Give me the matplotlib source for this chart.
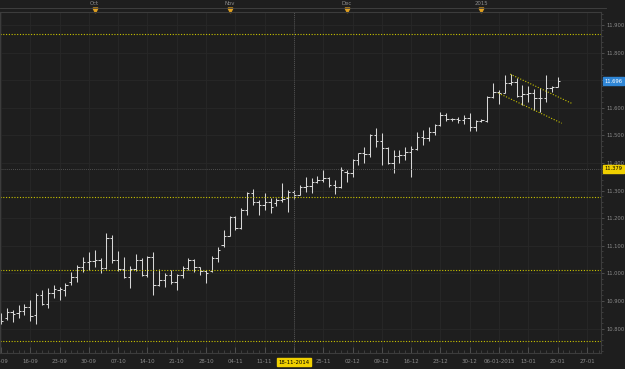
#!/usr/bin/env python
"""
Daily OHLC bar chart, dark terminal style, with support lines and a channel.
"""
import pandas as pd
import matplotlib
matplotlib.use("Agg")
import matplotlib.pyplot as plt
from matplotlib.transforms import blended_transform_factory

# daily bars, first bar is 09-09-2014
opens = [10.837, 10.838, 10.860, 10.858, 10.864, 10.878, 10.849, 10.922, 10.888, 10.928,
         10.940, 10.940, 10.970, 10.988, 11.024, 11.040, 11.045, 11.049, 11.020, 11.128,
         11.049, 11.016, 10.987, 11.016, 11.049, 10.994, 11.059, 10.958, 10.976, 10.994,
         10.969, 10.994, 11.020, 11.049, 11.023, 11.009, 11.009, 11.056, 11.103, 11.136,
         11.204, 11.164, 11.230, 11.291, 11.259, 11.248, 11.259, 11.255, 11.266, 11.273,
         11.295, 11.284, 11.313, 11.317, 11.331, 11.338, 11.346, 11.320, 11.313, 11.367,
         11.364, 11.411, 11.435, 11.433, 11.501, 11.480, 11.454, 11.400, 11.425, 11.429,
         11.440, 11.452, 11.494, 11.491, 11.512, 11.538, 11.574, 11.559, 11.558, 11.556,
         11.563, 11.530, 11.552, 11.552, 11.639, 11.657, 11.654, 11.690, 11.693, 11.641,
         11.650, 11.654, 11.636, 11.634, 11.672, 11.674]
highs = [10.855, 10.874, 10.867, 10.886, 10.888, 10.904, 10.928, 10.940, 10.946, 10.958,
         10.952, 10.964, 11.006, 11.030, 11.061, 11.079, 11.085, 11.055, 11.146, 11.139,
         11.081, 11.059, 11.027, 11.070, 11.056, 11.063, 11.078, 11.016, 11.001, 11.012,
         10.998, 11.027, 11.056, 11.052, 11.023, 11.012, 11.063, 11.096, 11.157, 11.208,
         11.208, 11.237, 11.295, 11.306, 11.266, 11.291, 11.273, 11.273, 11.328, 11.302,
         11.302, 11.320, 11.349, 11.346, 11.353, 11.375, 11.349, 11.338, 11.386, 11.375,
         11.414, 11.436, 11.458, 11.505, 11.527, 11.509, 11.458, 11.447, 11.447, 11.458,
         11.462, 11.512, 11.520, 11.530, 11.541, 11.585, 11.581, 11.563, 11.567, 11.574,
         11.581, 11.556, 11.558, 11.641, 11.690, 11.665, 11.719, 11.722, 11.708, 11.683,
         11.679, 11.668, 11.672, 11.719, 11.679, 11.712]
lows = [10.816, 10.831, 10.825, 10.840, 10.849, 10.829, 10.817, 10.886, 10.876, 10.912,
        10.904, 10.919, 10.958, 10.970, 11.006, 11.012, 11.024, 11.000, 11.016, 11.038,
        11.009, 10.983, 10.947, 11.009, 10.991, 10.987, 10.922, 10.954, 10.951, 10.962,
        10.940, 10.983, 11.012, 11.005, 10.994, 10.965, 11.005, 11.041, 11.096, 11.136,
        11.157, 11.161, 11.212, 11.248, 11.212, 11.230, 11.219, 11.244, 11.259, 11.222,
        11.270, 11.284, 11.295, 11.291, 11.328, 11.331, 11.313, 11.288, 11.309, 11.331,
        11.349, 11.393, 11.400, 11.422, 11.458, 11.393, 11.398, 11.364, 11.400, 11.411,
        11.349, 11.447, 11.465, 11.480, 11.501, 11.534, 11.552, 11.552, 11.545, 11.541,
        11.516, 11.516, 11.550, 11.550, 11.637, 11.614, 11.652, 11.683, 11.639, 11.610,
        11.621, 11.592, 11.585, 11.621, 11.657, 11.674]
closes = [10.828, 10.860, 10.852, 10.864, 10.879, 10.847, 10.922, 10.888, 10.928, 10.942,
          10.943, 10.958, 10.988, 11.024, 11.040, 11.045, 11.049, 11.018, 11.128, 11.049,
          11.016, 10.987, 11.016, 11.049, 10.994, 11.059, 10.958, 10.976, 10.994, 10.969,
          10.994, 11.020, 11.049, 11.023, 11.009, 11.001, 11.056, 11.085, 11.136, 11.204,
          11.164, 11.230, 11.291, 11.259, 11.248, 11.259, 11.241, 11.266, 11.270, 11.295,
          11.284, 11.313, 11.317, 11.331, 11.338, 11.346, 11.320, 11.313, 11.375, 11.364,
          11.411, 11.435, 11.433, 11.501, 11.480, 11.454, 11.400, 11.425, 11.429, 11.440,
          11.452, 11.494, 11.491, 11.512, 11.538, 11.574, 11.559, 11.558, 11.556, 11.563,
          11.530, 11.552, 11.554, 11.639, 11.657, 11.654, 11.690, 11.693, 11.641, 11.650,
          11.654, 11.636, 11.634, 11.672, 11.674, 11.696]

# weekly labels (every 5th bar), last one falls past the data
week_labels = ["09-09", "16-09", "23-09", "30-09", "07-10", "14-10", "21-10", "28-10",
               "04-11", "11-11", "18-11-2014", "25-11", "02-12", "09-12", "16-12",
               "23-12", "30-12", "06-01-2015", "13-01", "20-01", "27-01"]
month_labels = ["Oct", "Nov", "Dec", "2015"]
month_bars = [16, 39, 59, 82]

# horizontal levels drawn by hand on the chart
levels = [11.867, 11.277, 11.012, 10.755]
# falling channel (bar index, price)
channel_upper_x = [86.9, 97.6]
channel_upper_y = [11.722, 11.614]
channel_lower_x = [84.9, 95.7]
channel_lower_y = [11.653, 11.544]

cross_bar = 50
cross_price = 11.379
last_price = 11.696

BG = "#1e1e1e"
GRID = "#282828"
BAR = "#d6d6d6"
TXT = "#8c8c8c"
YEL = "#c9c400"

W, H = 625, 369


def plot_bars(ax):
    """Draw OHLC bars: high-low stem, open tick left, close tick right."""
    for i in range(len(closes)):
        ax.vlines(i, lows[i], highs[i], color=BAR, lw=0.75)
        ax.hlines(opens[i], i - 0.4, i, color=BAR, lw=0.75)
        ax.hlines(closes[i], i, i + 0.4, color=BAR, lw=0.75)


fig = plt.figure(figsize=(W / 100, H / 100), dpi=100, facecolor=BG)
ax = fig.add_axes([0, 16 / H, 601 / W, 341 / H], facecolor=BG)

ax.set_xlim(-0.17, 102.4)
ax.set_ylim(10.7116, 11.947)

# grid
price_ticks = [10.8 + 0.1 * k for k in range(12)]
week_pos = [5 * k for k in range(len(week_labels))]
for p in price_ticks:
    ax.axhline(p, color=GRID, lw=0.6, zorder=0)
for x in week_pos:
    ax.axvline(x, color=GRID, lw=0.6, zorder=0)

plot_bars(ax)

for lv in levels:
    ax.axhline(lv, color=YEL, lw=0.8, ls=(0, (1, 1.5)))
ax.plot(channel_upper_x, channel_upper_y, color=YEL, lw=0.8, ls=(0, (1, 1.5)))
ax.plot(channel_lower_x, channel_lower_y, color=YEL, lw=0.8, ls=(0, (1, 1.5)))

# crosshair
ax.axhline(cross_price, color="#606060", lw=0.6, ls=(0, (1, 1.5)))
ax.axvline(cross_bar, color="#606060", lw=0.6, ls=(0, (1, 1.5)))

for s in ax.spines.values():
    s.set_color("#3c3c3c")
    s.set_linewidth(0.8)

# right price axis
ax.yaxis.tick_right()
ax.set_yticks(price_ticks)
ax.set_yticklabels([f"{p:.3f}" for p in price_ticks])
ax.set_yticks([10.72 + 0.02 * k for k in range(62)], minor=True)
ax.tick_params(axis="y", which="major", direction="out", length=2.5, width=0.6,
               color="#555555", labelsize=3.7, labelcolor=TXT, pad=1.2)
ax.tick_params(axis="y", which="minor", direction="out", length=1.2, width=0.5,
               color="#4a4a4a")

# bottom date axis
ax.set_xticks(week_pos)
ax.set_xticklabels([("" if lab == "18-11-2014" else lab) for lab in week_labels])
ax.set_xticks(range(103), minor=True)
ax.tick_params(axis="x", which="major", direction="in", length=4, width=0.6,
               color="#555555", labelsize=3.9, labelcolor=TXT, pad=4)
ax.tick_params(axis="x", which="minor", direction="in", length=2, width=0.5,
               color="#4a4a4a")

# price tags on the right
tag = blended_transform_factory(ax.transAxes, ax.transData)
ax.text(1.006, last_price, f"{last_price:.3f}", transform=tag, fontsize=3.7,
        color="white", va="center", ha="left",
        bbox=dict(boxstyle="square,pad=0.25", fc="#2f86d6", ec="#2f86d6"))
ax.text(1.006, cross_price, f"{cross_price:.3f}", transform=tag, fontsize=3.7,
        color="black", va="center", ha="left",
        bbox=dict(boxstyle="square,pad=0.25", fc="#f0d000", ec="#f0d000"))

# highlighted date under the crosshair
bot = blended_transform_factory(ax.transData, fig.transFigure)
ax.text(cross_bar, 7 / H, "18-11-2014", transform=bot, fontsize=3.9, color="black",
        ha="center", va="center",
        bbox=dict(boxstyle="square,pad=0.2", fc="#f0d000", ec="#f0d000"))

# top month strip
fig.add_artist(plt.Line2D([0, 606 / W], [1 - 8 / H, 1 - 8 / H],
                          color="#444444", lw=0.6, transform=fig.transFigure))
for lab, b in zip(month_labels, month_bars):
    ax.text(b, 1 - 3.5 / H, lab, transform=bot, fontsize=3.9, color=TXT,
            ha="center", va="center")
    ax.plot([b], [1 - 10 / H], transform=bot, marker="v", ms=3.5,
            color="#e0a020", clip_on=False, ls="none")

fig.savefig("out.png", dpi=100, facecolor=BG)
